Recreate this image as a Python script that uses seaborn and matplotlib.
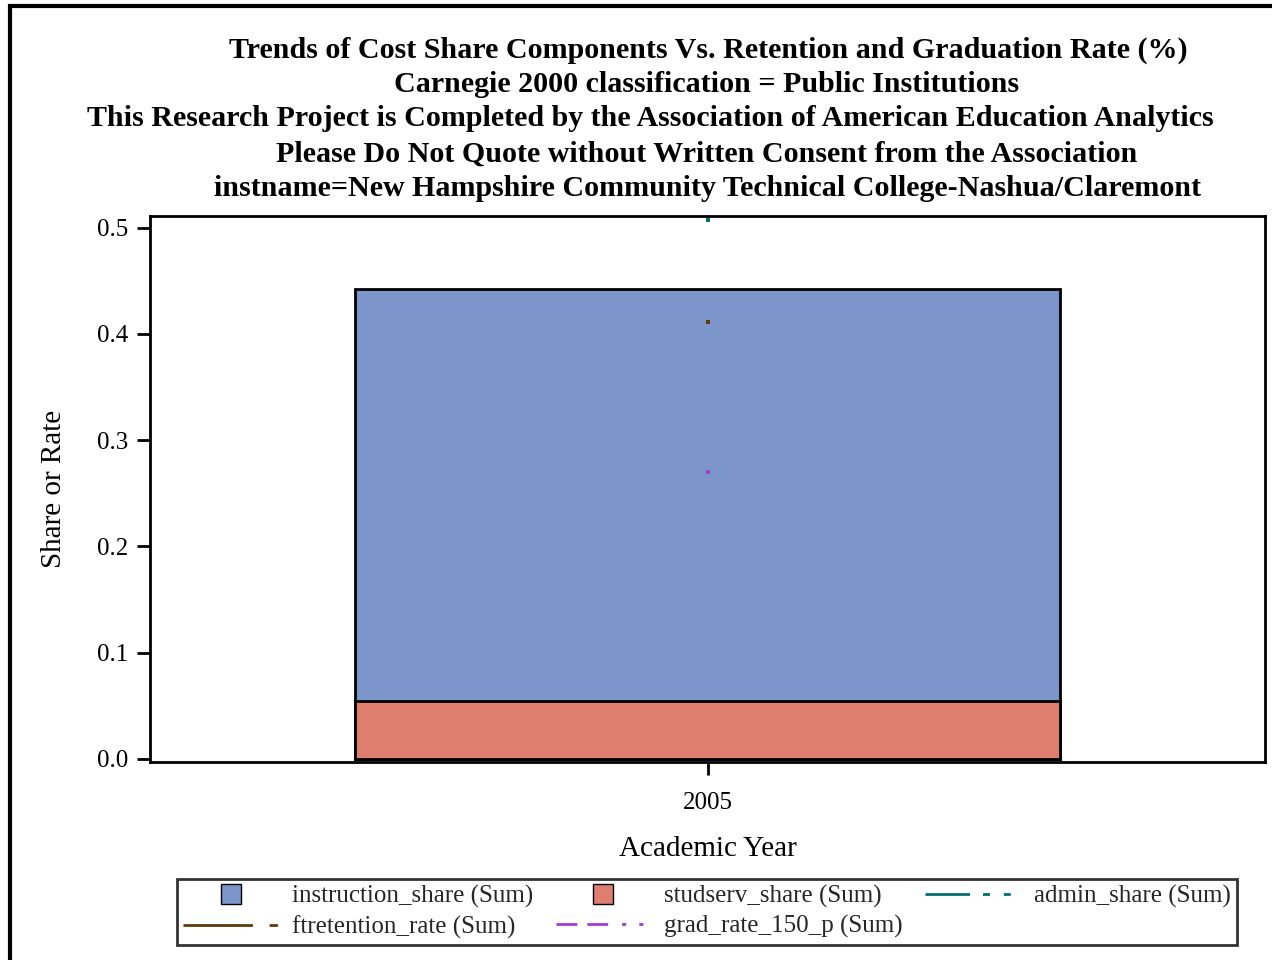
import numpy as np
import pandas as pd
import matplotlib
matplotlib.use('Agg')
import matplotlib.pyplot as plt
from matplotlib.patches import Rectangle
from matplotlib.lines import Line2D
import seaborn as sns

# ── Data ───────────────────────────────────────────────────
years             = ['2005']
instruction_share = [0.388]
studserv_share    = [0.054]
admin_share       = [0.507]
ftretention_rate  = [0.411]
grad_rate_150_p   = [0.270]

title_lines = [
    'Trends of Cost Share Components Vs. Retention and Graduation Rate (%)',
    'Carnegie 2000 classification = Public Institutions',
    'This Research Project is Completed by the Association of American Education Analytics',
    'Please Do Not Quote without Written Consent from the Association',
    'instname=New Hampshire Community Technical College-Nashua/Claremont',
]

df = pd.DataFrame({'year': years,
                   'instruction': instruction_share,
                   'studserv': studserv_share,
                   'admin': admin_share,
                   'ftret': ftretention_rate,
                   'grad': grad_rate_150_p})
df['stack_top'] = df['instruction'] + df['studserv']

c_instr = '#7C96CC'
c_stud  = '#DE7E6F'
c_admin = '#00706B'
c_ftret = '#5E3A0E'
c_grad  = '#A040D0'

sns.set_theme(style='white')
plt.rcParams['font.family'] = ['Liberation Serif', 'DejaVu Serif']

fig = plt.figure(figsize=(12.72, 9.6), dpi=100)
ax = fig.add_axes([150/1272, 1 - 762/960, (1265-150)/1272, (762-216)/960])

# ── Stacked bars ───────────────────────────────────────────
sns.barplot(data=df, x='year', y='stack_top', color=c_instr, width=0.632,
            edgecolor='black', linewidth=2, saturation=1, ax=ax)
sns.barplot(data=df, x='year', y='studserv', color=c_stud, width=0.632,
            edgecolor='black', linewidth=2, saturation=1, ax=ax)

# ── Single-year rate series (show as points) ──────────────
for col, c in [('admin', c_admin), ('ftret', c_ftret), ('grad', c_grad)]:
    sns.scatterplot(data=df, x='year', y=col, color=c, marker='s', s=6,
                    linewidth=0, ax=ax, zorder=5)

ax.set_xlim(-0.5, 0.5)
ax.set_ylim(-0.003, 0.511)
ax.set_yticks([0.0, 0.1, 0.2, 0.3, 0.4, 0.5])
ax.set_yticklabels(['0.0', '0.1', '0.2', '0.3', '0.4', '0.5'])
ax.tick_params(axis='both', which='both', direction='out', length=9.5, width=2,
               color='black', labelsize=18, labelcolor='black', left=True, bottom=True,
               pad=6)
ax.tick_params(axis='x', pad=12)
for s in ax.spines.values():
    s.set_color('black')
    s.set_linewidth(2)
ax.set_xlabel('Academic Year', fontsize=21, color='black', labelpad=16)
ax.set_ylabel('Share or Rate', fontsize=21, color='black', labelpad=22)

# ── Titles ─────────────────────────────────────────────────
title_x = [708, 707, 650, 707, 708]
title_y = [50, 85, 119, 154, 188]
for t, x, y in zip(title_lines, title_x, title_y):
    fig.text(x/1272, 1 - y/960, t, ha='center', va='center',
             fontsize=21.6, fontweight='bold', color='black')

# ── Legend (ordered so rows read across) ───────────────────
h_instr = Line2D([], [], marker='s', markersize=14, markerfacecolor=c_instr,
                 markeredgecolor='black', markeredgewidth=1, linestyle='none')
h_stud  = Line2D([], [], marker='s', markersize=14, markerfacecolor=c_stud,
                 markeredgecolor='black', markeredgewidth=1, linestyle='none')
h_admin = Line2D([], [], color=c_admin, lw=2, dashes=[16, 4.7, 2.5, 5, 2.5, 10])
h_ftret = Line2D([], [], color=c_ftret, lw=2, dashes=[25, 6, 3, 10])
h_grad  = Line2D([], [], color=c_grad, lw=2, dashes=[7.5, 3.6, 7.5, 5, 1.5, 4.7, 1.5, 10])

handles = [h_instr, h_ftret, h_stud, h_grad, h_admin]
labels = ['instruction_share (Sum)', 'ftretention_rate (Sum)',
          'studserv_share (Sum)', 'grad_rate_150_p (Sum)', 'admin_share (Sum)']
leg = fig.legend(handles, labels, ncol=3, loc='center',
                 bbox_to_anchor=(707/1272, 1 - 912/960), fontsize=18,
                 frameon=True, fancybox=False, edgecolor='black',
                 handlelength=3.8, handleheight=0.7, columnspacing=0.9,
                 borderpad=0.25, labelspacing=0.28, handletextpad=0.55)
leg.get_frame().set_linewidth(2)

# outer border
fig.patches.append(Rectangle((10/1272, -0.2), 1.2, 1.2 - 6/960, transform=fig.transFigure,
                             fill=False, edgecolor='black', linewidth=3))

fig.savefig('out.png', dpi=100)
